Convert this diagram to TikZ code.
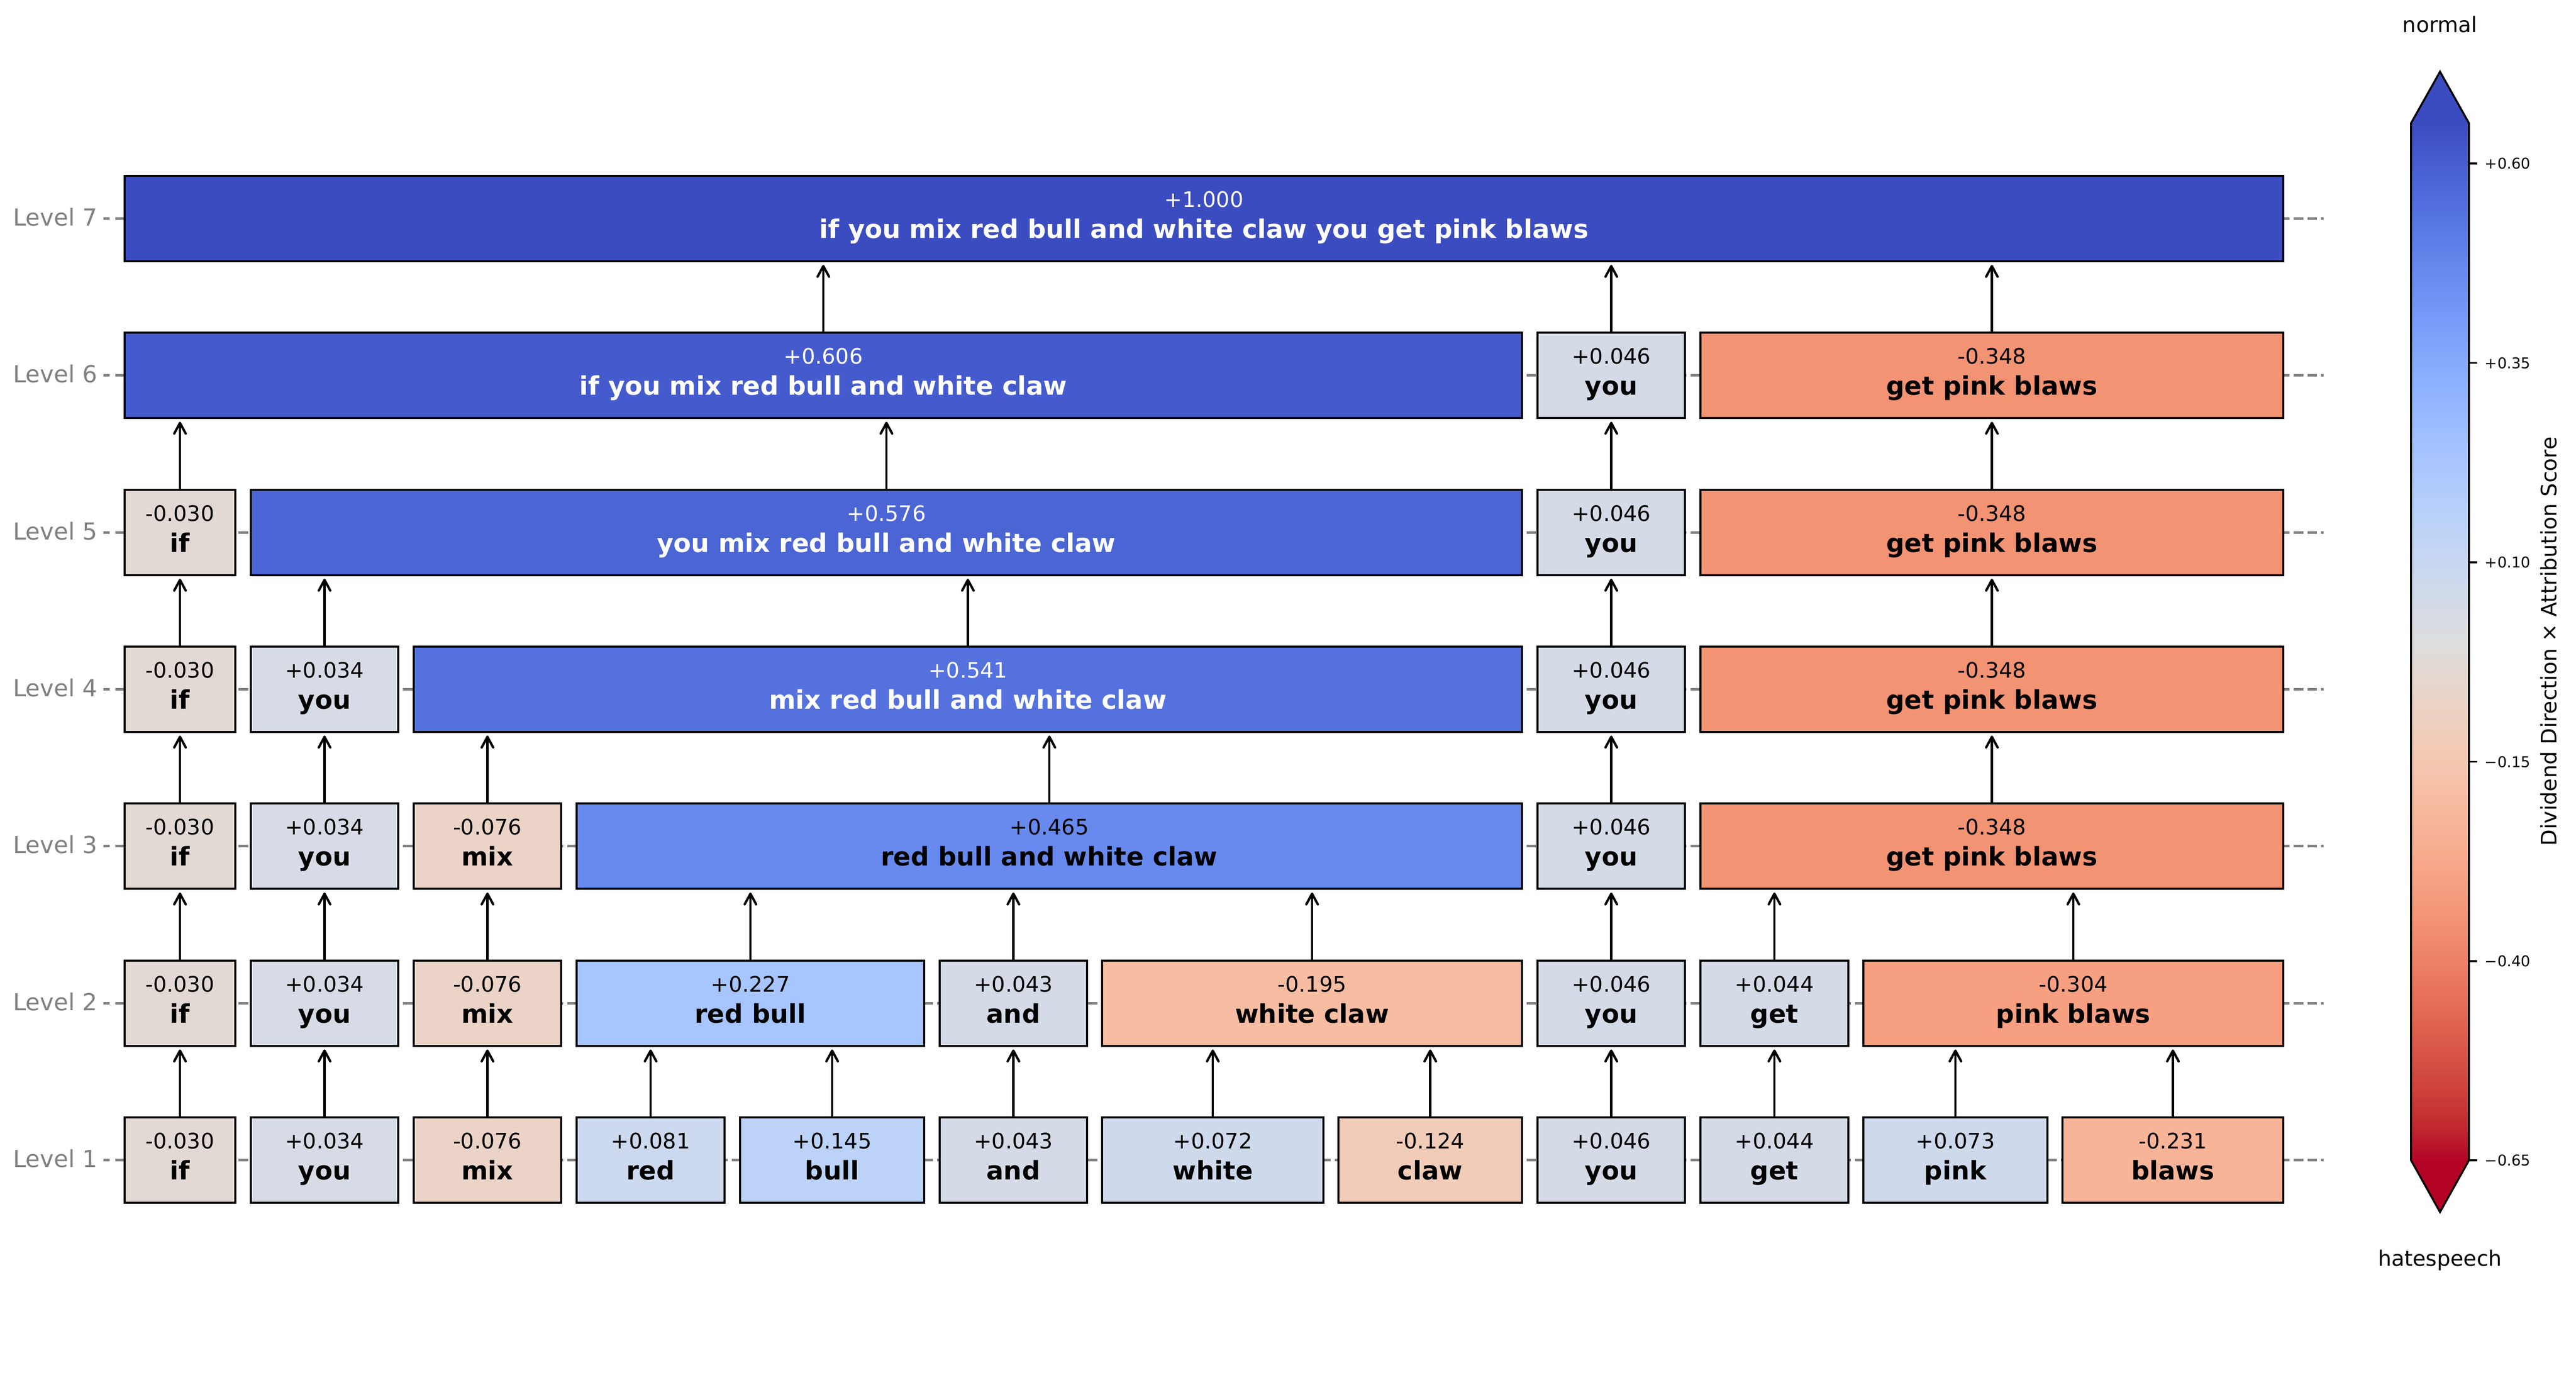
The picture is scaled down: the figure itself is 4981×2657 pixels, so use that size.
\documentclass[tikz,border=0pt]{standalone}
\usepackage{fontspec}
\setmainfont{DejaVu Sans}
\usetikzlibrary{arrows.meta}
% coolwarm stops (s = k/32)
\definecolor{cw00}{RGB}{59,76,192}
\definecolor{cw01}{RGB}{68,90,204}
\definecolor{cw02}{RGB}{77,104,215}
\definecolor{cw03}{RGB}{87,117,225}
\definecolor{cw04}{RGB}{98,130,234}
\definecolor{cw05}{RGB}{108,142,241}
\definecolor{cw06}{RGB}{119,154,247}
\definecolor{cw07}{RGB}{130,165,251}
\definecolor{cw08}{RGB}{141,176,254}
\definecolor{cw09}{RGB}{152,185,255}
\definecolor{cw10}{RGB}{163,194,255}
\definecolor{cw11}{RGB}{174,201,253}
\definecolor{cw12}{RGB}{184,208,249}
\definecolor{cw13}{RGB}{194,213,244}
\definecolor{cw14}{RGB}{204,217,238}
\definecolor{cw15}{RGB}{213,219,230}
\definecolor{cw16}{RGB}{221,221,221}
\definecolor{cw17}{RGB}{229,216,209}
\definecolor{cw18}{RGB}{236,211,197}
\definecolor{cw19}{RGB}{241,204,185}
\definecolor{cw20}{RGB}{245,196,173}
\definecolor{cw21}{RGB}{247,187,160}
\definecolor{cw22}{RGB}{247,177,148}
\definecolor{cw23}{RGB}{247,166,135}
\definecolor{cw24}{RGB}{244,154,123}
\definecolor{cw25}{RGB}{241,141,111}
\definecolor{cw26}{RGB}{236,127,99}
\definecolor{cw27}{RGB}{229,112,88}
\definecolor{cw28}{RGB}{222,96,77}
\definecolor{cw29}{RGB}{213,80,66}
\definecolor{cw30}{RGB}{203,62,56}
\definecolor{cw31}{RGB}{192,40,47}
\definecolor{cw32}{RGB}{180,4,38}
\pgfdeclareverticalshading{coolwarmbar}{100bp}{color(0bp)=(cw32); color(25bp)=(cw32);
 color(26.5625bp)=(cw31); color(28.125bp)=(cw30); color(29.6875bp)=(cw29); color(31.25bp)=(cw28);
 color(32.8125bp)=(cw27); color(34.375bp)=(cw26); color(35.9375bp)=(cw25); color(37.5bp)=(cw24);
 color(39.0625bp)=(cw23); color(40.625bp)=(cw22); color(42.1875bp)=(cw21); color(43.75bp)=(cw20);
 color(45.3125bp)=(cw19); color(46.875bp)=(cw18); color(48.4375bp)=(cw17); color(50bp)=(cw16);
 color(51.5625bp)=(cw15); color(53.125bp)=(cw14); color(54.6875bp)=(cw13); color(56.25bp)=(cw12);
 color(57.8125bp)=(cw11); color(59.375bp)=(cw10); color(60.9375bp)=(cw09); color(62.5bp)=(cw08);
 color(64.0625bp)=(cw07); color(65.625bp)=(cw06); color(67.1875bp)=(cw05); color(68.75bp)=(cw04);
 color(70.3125bp)=(cw03); color(71.875bp)=(cw02); color(73.4375bp)=(cw01); color(75bp)=(cw00);
 color(100bp)=(cw00)}
% box colours
\definecolor{cIf}{RGB}{227,217,212}
\definecolor{cYou}{RGB}{214,219,229}
\definecolor{cMix}{RGB}{235,212,199}
\definecolor{cRed}{RGB}{204,217,238}
\definecolor{cBull}{RGB}{188,210,247}
\definecolor{cAnd}{RGB}{212,219,230}
\definecolor{cWhite}{RGB}{206,217,236}
\definecolor{cClaw}{RGB}{241,204,184}
\definecolor{cYouB}{RGB}{212,219,231}
\definecolor{cGet}{RGB}{212,219,231}
\definecolor{cPink}{RGB}{206,217,236}
\definecolor{cBlaws}{RGB}{247,180,152}
\definecolor{cRB}{RGB}{167,197,254}
\definecolor{cWC}{RGB}{247,189,163}
\definecolor{cPB}{RGB}{246,160,129}
\definecolor{cRBAWC}{RGB}{104,137,238}
\definecolor{cGPB}{RGB}{242,147,116}
\definecolor{cMRB}{RGB}{84,113,222}
\definecolor{cYMR}{RGB}{75,101,213}
\definecolor{cIYM}{RGB}{69,91,205}
\definecolor{cAll}{RGB}{59,76,192}
\definecolor{lvlgray}{RGB}{128,128,128}
% token box: name, x1, x2, centre y, value, word, fill, text colour
\newcommand\tokbox[8]{%
  \pgfmathsetmacro\tcx{(#2+#3)/2}%
  \pgfmathsetmacro\tbw{(#3-#2)*0.2427}%
  \node[tok, fill=#7, minimum width=\tbw pt] (#1) at (\tcx,#4) {};
  \node[valtxt, text=#8, anchor=base] (#1v) at (\tcx,#4-22) {#5};
  \node[wordtxt, text=#8, anchor=base] (#1w) at (\tcx,#4+38) {#6};
}
\newcommand\uparr[2]{\draw[arr] (#1.north) -- (#1.north |- #2.south);}
\begin{document}
\begin{tikzpicture}[x=0.2427pt, y=-0.2427pt,
  tok/.style={draw=black, line width=1pt, inner sep=0pt, minimum height=40.05pt},
  valtxt/.style={font=\fontsize{10}{12}\selectfont, inner sep=0pt},
  wordtxt/.style={font=\fontsize{12}{14}\selectfont\bfseries, inner sep=0pt},
  lvltxt/.style={font=\fontsize{11}{13}\selectfont, text=lvlgray, inner sep=0pt},
  arr/.style={draw=black, line width=1.1pt, -{Straight Barb[length=5pt,width=5.4pt,round]}, shorten >=1.2pt},
  lvlline/.style={draw=lvlgray, line width=1.3pt, dash pattern=on 4.49pt off 1.94pt},
  lvltick/.style={draw=lvlgray, line width=1.3pt},
  cbtxt/.style={font=\fontsize{10}{12}\selectfont, inner sep=0pt},
  ticktxt/.style={font=\fontsize{7}{8}\selectfont, inner sep=0pt, anchor=base west},
  cbtick/.style={draw=black, line width=0.9pt}
]
\path[fill=white] (0,0) rectangle (4981,2657);
\useasboundingbox (0,0) rectangle (4981,2657);

% level guide lines and labels
\foreach \i/\cy in {1/2242.5, 2/1939.2, 3/1635.8, 4/1332.5, 5/1029.2, 6/725.8, 7/422.5}{
  \coordinate (ls\i) at (222.7,\cy);
  \coordinate (le\i) at (4493,\cy);
  \draw[lvlline] (ls\i) -- (le\i);
  \coordinate (ts\i) at (200,\cy);
  \coordinate (te\i) at (212,\cy);
  \draw[lvltick] (ts\i) -- (te\i);
  \node[lvltxt, anchor=base east] (lab\i) at (189,\cy+14) {Level \i};
}

% Level 1
\tokbox{a1}{241}{455}{2242.5}{-0.030}{if}{cIf}{black}
\tokbox{b1}{485}{770}{2242.5}{+0.034}{you}{cYou}{black}
\tokbox{c1}{800}{1085}{2242.5}{-0.076}{mix}{cMix}{black}
\tokbox{d1}{1115}{1401}{2242.5}{+0.081}{red}{cRed}{black}
\tokbox{e1}{1431}{1787}{2242.5}{+0.145}{bull}{cBull}{black}
\tokbox{f1}{1817}{2102}{2242.5}{+0.043}{and}{cAnd}{black}
\tokbox{g1}{2131}{2559}{2242.5}{+0.072}{white}{cWhite}{black}
\tokbox{h1}{2588}{2943}{2242.5}{-0.124}{claw}{cClaw}{black}
\tokbox{i1}{2973}{3258}{2242.5}{+0.046}{you}{cYouB}{black}
\tokbox{j1}{3288}{3574}{2242.5}{+0.044}{get}{cGet}{black}
\tokbox{k1}{3603}{3959}{2242.5}{+0.073}{pink}{cPink}{black}
\tokbox{l1}{3988}{4415}{2242.5}{-0.231}{blaws}{cBlaws}{black}
% Level 2
\tokbox{a2}{241}{455}{1939.2}{-0.030}{if}{cIf}{black}
\tokbox{b2}{485}{770}{1939.2}{+0.034}{you}{cYou}{black}
\tokbox{c2}{800}{1085}{1939.2}{-0.076}{mix}{cMix}{black}
\tokbox{d2}{1115}{1787}{1939.2}{+0.227}{red bull}{cRB}{black}
\tokbox{f2}{1817}{2102}{1939.2}{+0.043}{and}{cAnd}{black}
\tokbox{g2}{2131}{2943}{1939.2}{-0.195}{white claw}{cWC}{black}
\tokbox{i2}{2973}{3258}{1939.2}{+0.046}{you}{cYouB}{black}
\tokbox{j2}{3288}{3574}{1939.2}{+0.044}{get}{cGet}{black}
\tokbox{k2}{3603}{4415}{1939.2}{-0.304}{pink blaws}{cPB}{black}
% Level 3
\tokbox{a3}{241}{455}{1635.8}{-0.030}{if}{cIf}{black}
\tokbox{b3}{485}{770}{1635.8}{+0.034}{you}{cYou}{black}
\tokbox{c3}{800}{1085}{1635.8}{-0.076}{mix}{cMix}{black}
\tokbox{d3}{1115}{2943}{1635.8}{+0.465}{red bull and white claw}{cRBAWC}{black}
\tokbox{i3}{2973}{3258}{1635.8}{+0.046}{you}{cYouB}{black}
\tokbox{j3}{3288}{4415}{1635.8}{-0.348}{get pink blaws}{cGPB}{black}
% Level 4
\tokbox{a4}{241}{455}{1332.5}{-0.030}{if}{cIf}{black}
\tokbox{b4}{485}{770}{1332.5}{+0.034}{you}{cYou}{black}
\tokbox{c4}{800}{2943}{1332.5}{+0.541}{mix red bull and white claw}{cMRB}{white}
\tokbox{i4}{2973}{3258}{1332.5}{+0.046}{you}{cYouB}{black}
\tokbox{j4}{3288}{4415}{1332.5}{-0.348}{get pink blaws}{cGPB}{black}
% Level 5
\tokbox{a5}{241}{455}{1029.2}{-0.030}{if}{cIf}{black}
\tokbox{b5}{485}{2943}{1029.2}{+0.576}{you mix red bull and white claw}{cYMR}{white}
\tokbox{i5}{2973}{3258}{1029.2}{+0.046}{you}{cYouB}{black}
\tokbox{j5}{3288}{4415}{1029.2}{-0.348}{get pink blaws}{cGPB}{black}
% Level 6
\tokbox{a6}{241}{2943}{725.8}{+0.606}{if you mix red bull and white claw}{cIYM}{white}
\tokbox{i6}{2973}{3258}{725.8}{+0.046}{you}{cYouB}{black}
\tokbox{j6}{3288}{4415}{725.8}{-0.348}{get pink blaws}{cGPB}{black}
% Level 7
\tokbox{a7}{241}{4415}{422.5}{+1.000}{if you mix red bull and white claw you get pink blaws}{cAll}{white}

% arrows
\uparr{a1}{a2}\uparr{b1}{b2}\uparr{c1}{c2}\uparr{d1}{d2}\uparr{e1}{d2}\uparr{f1}{f2}
\uparr{g1}{g2}\uparr{h1}{g2}\uparr{i1}{i2}\uparr{j1}{j2}\uparr{k1}{k2}\uparr{l1}{k2}
\uparr{a2}{a3}\uparr{b2}{b3}\uparr{c2}{c3}\uparr{d2}{d3}\uparr{f2}{d3}\uparr{g2}{d3}
\uparr{i2}{i3}\uparr{j2}{j3}\uparr{k2}{j3}
\uparr{a3}{a4}\uparr{b3}{b4}\uparr{c3}{c4}\uparr{d3}{c4}\uparr{i3}{i4}\uparr{j3}{j4}
\uparr{a4}{a5}\uparr{b4}{b5}\uparr{c4}{b5}\uparr{i4}{i5}\uparr{j4}{j5}
\uparr{a5}{a6}\uparr{b5}{a6}\uparr{i5}{i6}\uparr{j5}{j6}
\uparr{a6}{a7}\uparr{i6}{a7}\uparr{j6}{a7}

% colour bar
\shade[shading=coolwarmbar] (4662,238) rectangle (4774,2243);
\fill[cw00] (4662,238.5) -- (4718,138.5) -- (4774,238.5) -- cycle;
\fill[cw32] (4662,2242.5) -- (4718,2343) -- (4774,2242.5) -- cycle;
\draw[black, line width=0.9pt, line join=miter] (4662,238) -- (4718,138.5) -- (4774,238) -- (4774,2243) -- (4718,2343) -- (4662,2243) -- cycle;
\foreach \ty/\tl in {316/{+0.60}, 701.5/{+0.35}, 1087/{+0.10}, 1472.5/{−0.15}, 1858/{−0.40}, 2243/{−0.65}}{
  \draw[cbtick] (4774,\ty) -- (4790,\ty);
  \node[ticktxt] at (4804,\ty+10.5) {\tl};
}
\node[cbtxt, anchor=base] (cbtop) at (4718,63) {normal};
\node[cbtxt, anchor=base] (cbbot) at (4718,2447) {hatespeech};
\node[cbtxt, anchor=base, rotate=90] (cblabel) at (4943,1240) {Dividend Direction × Attribution Score};
\end{tikzpicture}
\end{document}
